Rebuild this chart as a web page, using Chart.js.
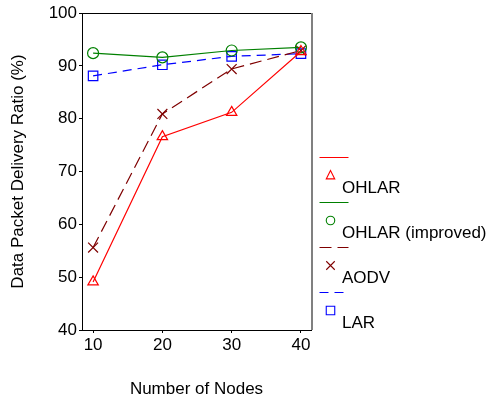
<!DOCTYPE html>
<html>
<head>
<meta charset="utf-8">
<script src="https://cdn.jsdelivr.net/npm/chart.js"></script>
<style>
  html, body { margin: 0; padding: 0; background: #ffffff; }
  #wrap { width: 490px; height: 398px; }
</style>
</head>
<body>
<div id="wrap"><canvas id="c" width="490" height="398"></canvas></div>
<script>
// ---- data ----
const nodes = [10, 20, 30, 40];
const xTicks = [10, 20, 30, 40];
const yTicks = [40, 50, 60, 70, 80, 90, 100];
const seriesNames = ['OHLAR', 'OHLAR (improved)', 'AODV', 'LAR'];
const ohlar = [49.1, 76.6, 81.2, 92.7];
const ohlarImproved = [92.4, 91.6, 92.9, 93.5];
const aodv = [55.6, 80.9, 89.4, 92.9];
const lar = [88.1, 90.2, 91.8, 92.3];
const xTitle = 'Number of Nodes';
const yTitle = 'Data Packet Delivery Ratio (%)';

const FONT = '"Liberation Sans", Arial, Helvetica, sans-serif';

function pts(vals) { return nodes.map((n, i) => ({ x: n, y: vals[i] })); }

const datasets = [
  { label: seriesNames[0], data: pts(ohlar), borderColor: '#ff0000', borderWidth: 1.2,
    pointStyle: 'triangle', pointRadius: 6, borderDash: [] },
  { label: seriesNames[1], data: pts(ohlarImproved), borderColor: '#008000', borderWidth: 1.2,
    pointStyle: 'circle', pointRadius: 5.5, borderDash: [] },
  { label: seriesNames[2], data: pts(aodv), borderColor: '#7f0000', borderWidth: 1.2,
    pointStyle: 'crossRot', pointRadius: 7, borderDash: [12, 6] },
  { label: seriesNames[3], data: pts(lar), borderColor: '#0000ff', borderWidth: 1.2,
    pointStyle: 'rect', pointRadius: 6.7, borderDash: [9, 6] }
].map(d => Object.assign(d, {
  showLine: true, fill: false, tension: 0,
  backgroundColor: 'rgba(0,0,0,0)',
  pointBackgroundColor: 'rgba(0,0,0,0)',
  pointBorderColor: d.borderColor,
  pointBorderWidth: 1.2,
  pointHoverRadius: d.pointRadius
}));

// frame (top black, right grey)
const framePlugin = {
  id: 'frame',
  afterDraw(chart) {
    const { ctx, chartArea: a } = chart;
    ctx.save();
    ctx.strokeStyle = '#000000';
    ctx.lineWidth = 1;
    ctx.beginPath();
    ctx.moveTo(a.left, a.top + 0.5);
    ctx.lineTo(a.right, a.top + 0.5);
    ctx.stroke();
    ctx.strokeStyle = '#808080';
    ctx.lineWidth = 2;
    ctx.beginPath();
    ctx.moveTo(a.right + 1, a.top);
    ctx.lineTo(a.right + 1, a.bottom);
    ctx.stroke();
    ctx.restore();
  }
};

// custom legend: line sample, then marker and label below
function drawMarker(ctx, style, x, y, s) {
  ctx.beginPath();
  if (style === 'triangle') {
    ctx.moveTo(x, y - s * 0.6);
    ctx.lineTo(x + s / 2, y + s * 0.4);
    ctx.lineTo(x - s / 2, y + s * 0.4);
    ctx.closePath();
  } else if (style === 'circle') {
    ctx.arc(x, y, s / 2, 0, Math.PI * 2);
  } else if (style === 'crossRot') {
    ctx.moveTo(x - s / 2, y - s / 2); ctx.lineTo(x + s / 2, y + s / 2);
    ctx.moveTo(x + s / 2, y - s / 2); ctx.lineTo(x - s / 2, y + s / 2);
  } else if (style === 'rect') {
    ctx.rect(x - s / 2, y - s / 2, s, s);
  }
  ctx.stroke();
}

const legendPlugin = {
  id: 'sideLegend',
  afterDraw(chart) {
    const { ctx } = chart;
    const x0 = 319.5, x1 = 348.5;
    const firstY = 157.5, step = 45;
    ctx.save();
    chart.data.datasets.forEach((ds, i) => {
      const ly = firstY + i * step;
      ctx.strokeStyle = ds.borderColor;
      ctx.lineWidth = 1;
      ctx.setLineDash(ds.borderDash || []);
      ctx.beginPath();
      ctx.moveTo(x0, ly);
      ctx.lineTo(x1, ly);
      ctx.stroke();
      ctx.setLineDash([]);
      ctx.lineWidth = 1.1;
      drawMarker(ctx, ds.pointStyle, 330.5, ly + 18, 8.5);
      ctx.fillStyle = '#000000';
      ctx.font = '17px ' + FONT;
      ctx.textAlign = 'left';
      ctx.textBaseline = 'alphabetic';
      ctx.fillText(ds.label, 342, ly + 35);
    });
    ctx.restore();
  }
};

new Chart(document.getElementById('c'), {
  type: 'scatter',
  data: { datasets },
  plugins: [framePlugin, legendPlugin],
  options: {
    responsive: false,
    animation: false,
    events: [],
    layout: { padding: { top: 13, right: 179, left: 0, bottom: 0 } },
    plugins: { legend: { display: false }, tooltip: { enabled: false } },
    scales: {
      x: {
        type: 'linear',
        min: 8.4, max: 41.45,
        afterFit(s) { s.height = 68; },
        afterBuildTicks(s) { s.ticks = xTicks.map(v => ({ value: v })); },
        ticks: { color: '#000000', font: { family: FONT, size: 17 }, padding: 2, maxRotation: 0,
                 callback: v => String(v) },
        grid: { display: true, drawOnChartArea: false, drawTicks: true, tickLength: 3,
                color: '#000000', lineWidth: 1 },
        border: { display: true, color: '#000000', width: 1 },
        title: { display: true, text: xTitle, color: '#000000',
                 font: { family: FONT, size: 17, lineHeight: 1.0 }, padding: { top: 0, bottom: 0 } }
      },
      y: {
        type: 'linear',
        min: 40, max: 100,
        afterFit(s) { s.width = 82; },
        afterBuildTicks(s) { s.ticks = yTicks.map(v => ({ value: v })); },
        ticks: { color: '#000000', font: { family: FONT, size: 17 }, padding: 2,
                 callback: v => String(v) },
        grid: { display: true, drawOnChartArea: false, drawTicks: true, tickLength: 3,
                color: '#000000', lineWidth: 1 },
        border: { display: true, color: '#000000', width: 1 },
        title: { display: true, text: yTitle, color: '#000000',
                 font: { family: FONT, size: 17, lineHeight: 1.0 }, padding: { top: 9.5, bottom: 0 } }
      }
    }
  }
});
</script>
</body>
</html>
